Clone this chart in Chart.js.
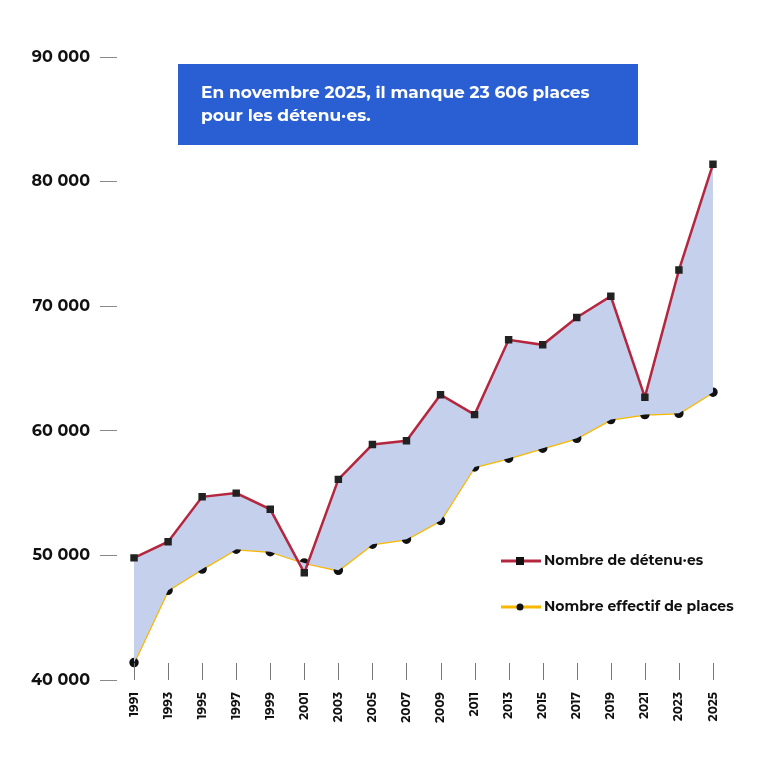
<!DOCTYPE html>
<html><head><meta charset="utf-8">
<script src="https://cdn.jsdelivr.net/npm/chart.js@4"></script>
<style>html,body{margin:0;background:#fff}#w{width:768px;height:767px}</style>
</head><body><div id="w"><canvas id="c"></canvas></div>
<script>
const years=['1991','1993','1995','1997','1999','2001','2003','2005','2007','2009','2011','2013','2015','2017','2019','2021','2023','2025'];
const detenus=[49800,51100,54700,55000,53700,48600,56100,58900,59200,62900,61300,67300,66900,69100,70800,62700,72900,81400];
const places=[41400,47200,48900,50500,50300,49400,48800,50900,51300,52800,57100,57800,58600,59400,60900,61300,61400,63100];
const yTicks=[40000,50000,60000,70000,80000,90000];
const title=['En novembre 2025, il manque 23 606 places','pour les détenu·es.'];
const F='Montserrat, "Open Sans", Lato, sans-serif';
const deco={id:'deco',afterDraw(ch){
  const c=ch.ctx,a=ch.chartArea,x=ch.scales.x;
  c.save();
  c.strokeStyle='#777';c.lineWidth=1;
  years.forEach((_,i)=>{const px=Math.round(x.getPixelForValue(i))+0.5;c.beginPath();c.moveTo(px,a.bottom-17);c.lineTo(px,a.bottom);c.stroke();});
  c.fillStyle='#2a5fd4';c.fillRect(178,64,460,81);
  c.fillStyle='#fff';c.font='bold 17px '+F;c.textBaseline='middle';
  c.fillText(title[0],201,93);c.fillText(title[1],201,116);
  const L=[[0,561],[1,607]];
  L.forEach(([i,y])=>{const ds=ch.data.datasets[i];
    c.strokeStyle=ds.borderColor;c.lineWidth=3;c.beginPath();c.moveTo(501,y);c.lineTo(541,y);c.stroke();
    c.fillStyle='#111';
    if(i==0)c.fillRect(516,y-4,8,8);else{c.beginPath();c.arc(520,y,3.5,0,7);c.fill();}
    c.fillStyle='#111';c.font='bold 14px '+F;c.fillText(ds.label,544,y);});
  c.restore();}};
new Chart(document.getElementById('c'),{type:'line',
 data:{labels:years,datasets:[
  {label:'Nombre de détenu·es',data:detenus,borderColor:'#b5273f',borderWidth:2.5,backgroundColor:'#c5d0ec',fill:'+1',pointStyle:'rect',pointRadius:3.5,pointBackgroundColor:'#222',pointBorderColor:'#222',tension:0},
  {label:'Nombre effectif de places',data:places,borderColor:'#f9b800',borderWidth:2.5,fill:false,pointStyle:'circle',pointRadius:3.5,pointBackgroundColor:'#111',pointBorderColor:'#111',tension:0}]},
 options:{responsive:true,maintainAspectRatio:false,animation:false,
  layout:{padding:{top:57,right:38,left:0,bottom:0}},
  plugins:{legend:{display:false},tooltip:{enabled:false}},
  scales:{
   x:{offset:true,grid:{display:false},border:{display:false},afterFit(s){s.height=87;},
      ticks:{color:'#111',font:{family:F,weight:'bold',size:12},maxRotation:90,minRotation:90,padding:4}},
   y:{min:40000,max:90000,afterFit(s){s.width=117;},border:{display:false},
      afterBuildTicks(s){s.ticks=yTicks.map(v=>({value:v}));},
      grid:{drawOnChartArea:false,drawTicks:true,tickLength:17,color:'#888'},
      ticks:{color:'#111',padding:10,font:{family:F,weight:'bold',size:16},callback:v=>String(v).replace(/\B(?=(\d{3})+(?!\d))/g,' ')}}}},
 plugins:[deco]});
</script></body></html>
